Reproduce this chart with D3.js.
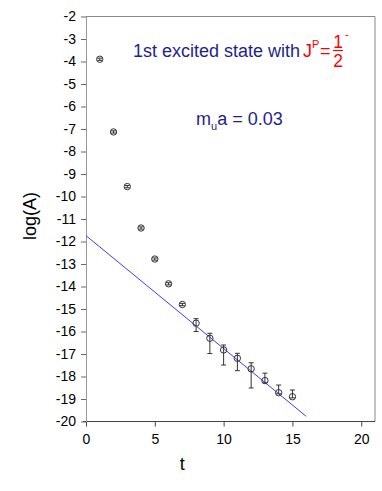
<!DOCTYPE html>
<html>
<head>
<meta charset="utf-8">
<script src="https://cdn.jsdelivr.net/npm/d3@7"></script>
<style>
  body { margin: 0; background: #fff; }
  svg { font-family: "Liberation Sans", Arial, sans-serif; }
</style>
</head>
<body>
<div id="chart"></div>
<script>
// data
var tVals = [1, 2, 3, 4, 5, 6, 7, 8, 9, 10, 11, 12, 13, 14, 15];
var logA = [-3.9, -7.13, -9.56, -11.40, -12.78, -13.88, -14.80, -15.63, -16.30, -16.82, -17.19, -17.66, -18.18, -18.72, -18.90];
var errUp = [0.05, 0.05, 0.05, 0.05, 0.05, 0.05, 0.05, 0.20, 0.22, 0.22, 0.22, 0.27, 0.33, 0.34, 0.30];
var errDown = [0.05, 0.05, 0.05, 0.05, 0.05, 0.05, 0.05, 0.37, 0.68, 0.67, 0.55, 0.85, 0.10, 0.05, 0.05];

var fitT = [0, 16];
var fitLogA = [-11.74, -19.77];

var xTicks = [0, 5, 10, 15, 20];
var yTicks = d3.range(-20, -1, 1);

var W = 382, H = 491;
var plotL = 86, plotR = 375, plotT = 16.5, plotB = 421.5;

var svg = d3.select('#chart').append('svg')
    .attr('width', W)
    .attr('height', H);

var x = d3.scaleLinear().domain([0, 21]).range([plotL, plotR]);
var y = d3.scaleLinear().domain([-20, -2]).range([plotB, plotT]);

// plain hyphen minus, like the original
var fmt = function(d) { return String(d); };

// frame (top / right)
svg.append('path')
    .attr('d', 'M' + plotL + ',' + plotT + 'H' + plotR + 'V' + plotB)
    .attr('fill', 'none')
    .attr('stroke', '#888')
    .attr('stroke-width', 1);

var xAxis = svg.append('g')
    .attr('transform', 'translate(0,' + plotB + ')')
    .call(d3.axisBottom(x).tickValues(xTicks).tickFormat(fmt).tickSize(5).tickPadding(8).tickSizeOuter(0));
xAxis.select('.domain').attr('stroke', '#444').attr('d', 'M' + (plotL - 3) + ',0H' + plotR);
xAxis.selectAll('.tick line').attr('stroke', '#444');
xAxis.selectAll('text').attr('font-size', 14).attr('fill', '#000');

var yAxis = svg.append('g')
    .attr('transform', 'translate(' + plotL + ',0)')
    .call(d3.axisLeft(y).tickValues(yTicks).tickFormat(fmt).tickSize(5).tickPadding(5).tickSizeOuter(0));
yAxis.select('.domain').attr('stroke', '#999');
yAxis.selectAll('.tick line').attr('stroke', '#666');
yAxis.selectAll('text').attr('font-size', 14).attr('fill', '#000');

// axis titles
svg.append('text')
    .attr('transform', 'translate(36,216) rotate(-90)')
    .attr('text-anchor', 'middle')
    .attr('font-size', 18)
    .text('log(A)');

svg.append('text')
    .attr('x', x(7))
    .attr('y', 470)
    .attr('text-anchor', 'middle')
    .attr('font-size', 18)
    .text('t');

// fit line
var fit = fitT.map(function(t, i) { return { t: t, v: fitLogA[i] }; });
svg.append('path')
    .datum(fit)
    .attr('fill', 'none')
    .attr('stroke', '#3c3cff')
    .attr('stroke-width', 1)
    .attr('d', d3.line()
        .x(function(d) { return x(d.t); })
        .y(function(d) { return y(d.v); }));

// data points with error bars
var pts = tVals.map(function(t, i) {
    return { t: t, v: logA[i], hi: logA[i] + errUp[i], lo: logA[i] - errDown[i] };
});

var g = svg.append('g').attr('stroke', '#333').attr('stroke-width', 1).attr('fill', 'none');

g.selectAll('line.bar')
    .data(pts)
    .enter().append('line')
    .attr('class', 'bar')
    .attr('x1', function(d) { return x(d.t); })
    .attr('x2', function(d) { return x(d.t); })
    .attr('y1', function(d) { return y(d.hi); })
    .attr('y2', function(d) { return y(d.lo); });

['hi', 'lo'].forEach(function(k) {
    g.selectAll('line.cap-' + k)
        .data(pts)
        .enter().append('line')
        .attr('class', 'cap-' + k)
        .attr('x1', function(d) { return x(d.t) - 2.5; })
        .attr('x2', function(d) { return x(d.t) + 2.5; })
        .attr('y1', function(d) { return y(d[k]); })
        .attr('y2', function(d) { return y(d[k]); });
});

g.selectAll('circle')
    .data(pts)
    .enter().append('circle')
    .attr('cx', function(d) { return x(d.t); })
    .attr('cy', function(d) { return y(d.v); })
    .attr('r', 3.2);

// annotations
var navy = '#1f1f8c', red = '#ff0000';

svg.append('text')
    .attr('x', 133).attr('y', 57)
    .attr('font-size', 18)
    .attr('fill', navy)
    .text('1st excited state with');

var jp = svg.append('text')
    .attr('x', 303).attr('y', 57)
    .attr('font-size', 18)
    .attr('fill', red);
jp.append('tspan').text('J');
jp.append('tspan').attr('font-size', 11).attr('dy', -9).text('P');
jp.append('tspan').attr('x', 320).attr('dy', 9).text('=');

svg.append('text')
    .attr('x', 338).attr('y', 48)
    .attr('text-anchor', 'middle')
    .attr('font-size', 17.5)
    .attr('fill', red)
    .text('1');
svg.append('text')
    .attr('x', 338).attr('y', 66.5)
    .attr('text-anchor', 'middle')
    .attr('font-size', 17.5)
    .attr('fill', red)
    .text('2');
svg.append('line')
    .attr('x1', 333).attr('x2', 343)
    .attr('y1', 50.5).attr('y2', 50.5)
    .attr('stroke', red)
    .attr('stroke-width', 1.2);
svg.append('text')
    .attr('x', 345).attr('y', 38)
    .attr('font-size', 11)
    .attr('fill', red)
    .text('-');

var mass = svg.append('text')
    .attr('x', 196)
    .attr('y', 125)
    .attr('font-size', 18)
    .attr('fill', navy);
mass.append('tspan').text('m');
mass.append('tspan').attr('font-size', 11).attr('dy', 5).text('u');
mass.append('tspan').attr('dy', -5).text('a = 0.03');
</script>
</body>
</html>
